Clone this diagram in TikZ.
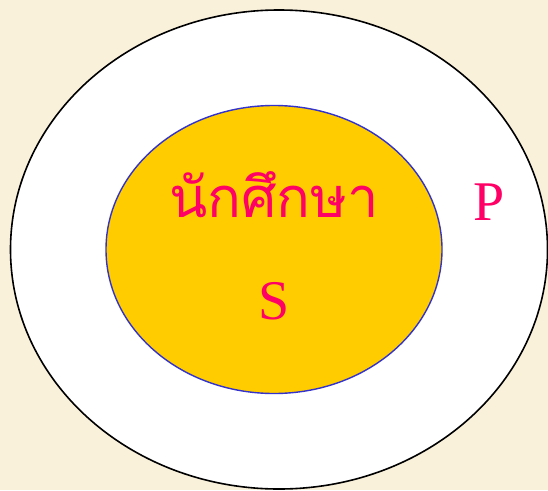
\documentclass[tikz,border=0pt]{standalone}
\usepackage{fontspec}
\setmainfont{Liberation Serif}
\newfontfamily\thaifont[Script=Thai]{Loma}
\usetikzlibrary{shapes.geometric, positioning}
\definecolor{Parchment}{HTML}{FAF1DB}
\definecolor{SetFill}{HTML}{FFCC00}
\definecolor{SetLine}{HTML}{3333CC}
\definecolor{LabelPink}{HTML}{FF0066}
\tikzset{
  outerset/.style={ellipse, draw=black, line width=1.6pt, fill=white,
    minimum width=537pt, minimum height=479pt, inner sep=0pt},
  innerset/.style={ellipse, draw=SetLine, line width=1.4pt, fill=SetFill,
    minimum width=336pt, minimum height=288pt, inner sep=0pt},
  setlabel/.style={text=LabelPink, font=\fontsize{56}{60}\selectfont, inner sep=0pt},
}

\begin{document}
\begin{tikzpicture}[x=1pt, y=-1pt]
    \fill[Parchment] (0,0) rectangle (548,490);
    \useasboundingbox (0,0) rectangle (548,490);
    \node[outerset] (p) at (279,249.5) {};
    \node[innerset] (s) at (274,249.5) {};
    \node[setlabel, anchor=base] (thai) at (274,217) {\thaifont นักศึกษา};
    \node[setlabel, anchor=base] (slabel) at (274,319) {S};
    \node[setlabel, anchor=base] (plabel) at (489,220) {P};
  \end{tikzpicture}
\end{document}
